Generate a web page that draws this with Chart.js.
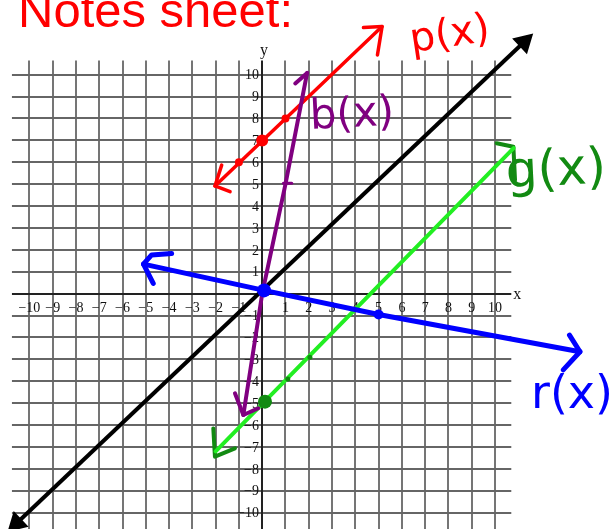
<!DOCTYPE html>
<html>
<head>
<meta charset="utf-8">
<script src="https://cdn.jsdelivr.net/npm/chart.js@4.4.1/dist/chart.umd.min.js"></script>
<style>
  html, body { margin: 0; padding: 0; background: #fff; }
  #wrap { width: 614px; height: 529px; }
</style>
</head>
<body>
<div id="wrap"><canvas id="graph" width="614" height="529"></canvas></div>
<script>
// Tick values on both axes (0 has no label)
const TICKS = [-10, -9, -8, -7, -6, -5, -4, -3, -2, -1, 0, 1, 2, 3, 4, 5, 6, 7, 8, 9, 10];

// y = x (black, arrowheads at both ends)
const identityLine = [[-10.55, -10.48], [11.25, 11.49]];

// p(x) red
const pLine = [[-2.03, 4.92], [5.15, 12.2]];
const pArrowLow = [[-1.74, 5.87], [-2.03, 4.92], [-1.38, 4.66]];
const pArrowHigh = [[4.35, 12.15], [5.15, 12.2], [4.95, 10.9]];
const pDots = [[-1, 6], [1, 8]];
const pMainDot = [[0, 7]];

// b(x) purple
const bLine = [[-0.81, -5.54], [0, 0], [1, 5], [1.93, 10.08]];
const bArrowTop = [[1.42, 9.6], [1.93, 10.08]];
const bArrowBottom = [[-1.17, -4.55], [-0.81, -5.54], [-0.17, -5.23]];
const bTick = [[0.91, 5.04], [1.27, 5.04]];

// r(x) blue
const rLine = [[-5.1, 1.35], [0.08, 0.15], [5, -0.95], [13.65, -2.65]];
const rArrowLeft = [[-3.89, 1.84], [-4.75, 1.77], [-5.1, 1.35], [-4.68, 0.47]];
const rArrowRight = [[13.2, -1.89], [13.65, -2.65], [12.93, -3.48]];
const rDot = [[5, -0.95]];
const rMainDot = [[0.08, 0.15]];

// g(x) green
const gLine = [[-2.0, -7.2], [10.8, 6.65]];
const gArrowTop = [[10.07, 6.87], [10.79, 6.71], [10.86, 5.19]];
const gArrowBottom = [[-2.1, -6.15], [-2.03, -7.44], [-1.17, -7.06]];
const gDots = [[1.1, -3.9], [2.05, -2.9]];
const gMainDot = [[0.12, -4.93]];

const X_RANGE = [-11.263, 15.112];
const Y_RANGE = [-10.744, 13.41];
const GRID_X = [-10.75, 10.7];
const GRID_Y = [-10.8, 10.65];

const RED = '#ff0000', PURPLE = '#800080', BLUE = '#0000ff',
      LIME = '#22ee22', DKGREEN = '#128a12';

const pts = arr => arr.map(([x, y]) => ({ x, y }));

function path(data, color, width, order) {
    return { data: pts(data), showLine: true, borderColor: color, backgroundColor: color,
             borderWidth: width, pointRadius: 0, borderCapStyle: 'round',
             borderJoinStyle: 'round', tension: 0, order: order };
}
function dots(data, color, r, order) {
    return { data: pts(data), showLine: false, backgroundColor: color, borderColor: color,
             borderWidth: 0, pointRadius: r, order: order };
}

const gridPlugin = {
    id: 'gridPlugin',
    beforeDatasetsDraw(chart) {
        const { ctx } = chart;
        const xs = chart.scales.x, ys = chart.scales.y;
        const left = xs.getPixelForValue(GRID_X[0]), right = xs.getPixelForValue(GRID_X[1]);
        const top = ys.getPixelForValue(GRID_Y[1]), bottom = ys.getPixelForValue(GRID_Y[0]);
        ctx.save();
        ctx.strokeStyle = '#666';
        ctx.lineWidth = 1.8;
        TICKS.forEach(t => {
            if (t === 0) return;
            const px = Math.round(xs.getPixelForValue(t));
            ctx.beginPath(); ctx.moveTo(px, top); ctx.lineTo(px, bottom); ctx.stroke();
            const py = Math.round(ys.getPixelForValue(t));
            ctx.beginPath(); ctx.moveTo(left, py); ctx.lineTo(right, py); ctx.stroke();
        });
        // axes
        const x0 = Math.round(xs.getPixelForValue(0)), y0 = Math.round(ys.getPixelForValue(0));
        ctx.strokeStyle = '#222';
        ctx.lineWidth = 2;
        ctx.beginPath(); ctx.moveTo(left, y0); ctx.lineTo(right, y0); ctx.stroke();
        ctx.beginPath(); ctx.moveTo(x0, top); ctx.lineTo(x0, bottom); ctx.stroke();

        // tick labels
        ctx.fillStyle = '#111';
        ctx.font = '14px "Liberation Serif", "DejaVu Serif", serif';
        TICKS.forEach(t => {
            if (t === 0) return;
            const lab = t < 0 ? '\u2212' + Math.abs(t) : String(t);
            ctx.textAlign = 'center'; ctx.textBaseline = 'middle';
            ctx.fillText(lab, xs.getPixelForValue(t), y0 + 14);
            ctx.textAlign = 'right';
            ctx.fillText(lab, x0 - 3, ys.getPixelForValue(t) + 1);
        });
        ctx.font = '16px "Liberation Serif", "DejaVu Serif", serif';
        ctx.textAlign = 'center';
        ctx.fillText('y', x0 + 2, top - 10);
        ctx.fillText('x', right + 6, y0 + 1);
        ctx.restore();
    },
    afterDatasetsDraw(chart) {
        const { ctx } = chart;
        ctx.save();
        ctx.fillStyle = RED;
        ctx.font = '49px "Liberation Sans", Arial, sans-serif';
        ctx.textAlign = 'left'; ctx.textBaseline = 'alphabetic';
        ctx.fillText('Notes sheet:', 18, 27);

        const hand = (text, color, size, x, y, rot) => {
            ctx.save();
            ctx.translate(x, y);
            ctx.rotate(rot);
            ctx.fillStyle = color;
            ctx.font = size + 'px "DejaVu Sans", sans-serif';
            ctx.textAlign = 'center'; ctx.textBaseline = 'middle';
            ctx.fillText(text, 0, 0);
            ctx.restore();
        };
        hand('p(x)', RED, 40, 450, 36, -0.15);
        hand('b(x)', PURPLE, 42, 352, 116, -0.05);
        hand('g(x)', DKGREEN, 50, 556, 172, -0.05);
        hand('r(x)', BLUE, 46, 572, 396, 0);
        ctx.restore();
    }
};

new Chart(document.getElementById('graph'), {
    type: 'scatter',
    data: {
        datasets: [
            dots(rMainDot, BLUE, 7, 1),
            dots(rDot, BLUE, 5, 1),
            path(rLine, BLUE, 5, 2),
            path(rArrowLeft, BLUE, 5, 2),
            path(rArrowRight, BLUE, 5, 2),
            dots(gMainDot, DKGREEN, 7, 3),
            dots(gDots, DKGREEN, 2.5, 3),
            path(bLine, PURPLE, 4, 4),
            path(bArrowTop, PURPLE, 4, 4),
            path(bArrowBottom, PURPLE, 4, 4),
            path(bTick, PURPLE, 3, 4),
            path(gLine, LIME, 4, 5),
            path(gArrowTop, DKGREEN, 4, 5),
            path(gArrowBottom, DKGREEN, 4, 5),
            dots(pMainDot, RED, 6, 6),
            dots(pDots, RED, 4, 6),
            path(pLine, RED, 3.5, 7),
            path(pArrowLow, RED, 3.5, 7),
            path(pArrowHigh, RED, 3.5, 7),
            {
                data: pts(identityLine), showLine: true, borderColor: '#000', backgroundColor: '#000',
                borderWidth: 4, pointStyle: 'triangle', pointRadius: 8.5,
                pointRotation: [226.75, 46.75], order: 8
            }
        ]
    },
    options: {
        responsive: false,
        animation: false,
        events: [],
        layout: { padding: 0, autoPadding: false },
        scales: {
            x: { type: 'linear', min: X_RANGE[0], max: X_RANGE[1], display: false },
            y: { type: 'linear', min: Y_RANGE[0], max: Y_RANGE[1], display: false }
        },
        plugins: { legend: { display: false }, tooltip: { enabled: false } }
    },
    plugins: [gridPlugin]
});
</script>
</body>
</html>
